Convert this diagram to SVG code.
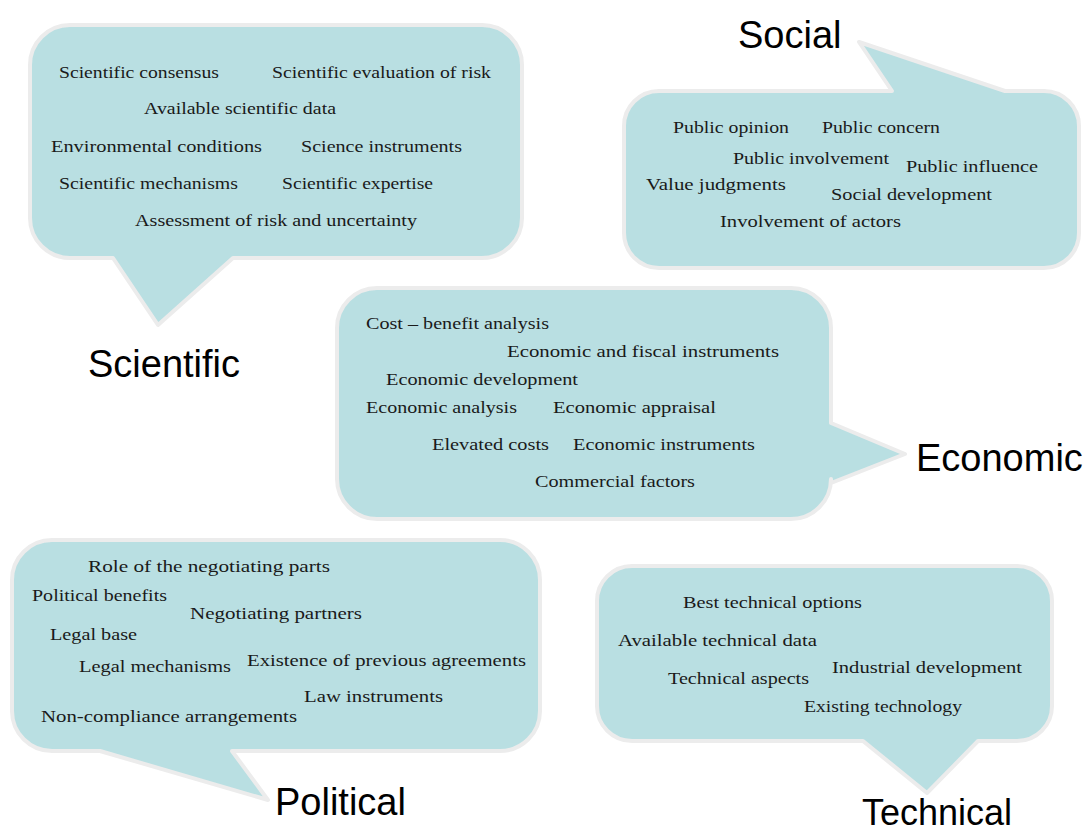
<svg xmlns="http://www.w3.org/2000/svg" width="1088" height="834" viewBox="0 0 1088 834">
<style>
.bubble{fill:#b9dfe2;stroke:#ececec;stroke-width:4;stroke-linejoin:round}
.item{font-family:"Liberation Serif","Times New Roman",serif;font-size:17.5px;fill:#1a1a1a}
.label{font-family:"Liberation Sans",Arial,sans-serif;font-size:38px;fill:#000}
</style>
<rect width="1088" height="834" fill="#ffffff"/>
<g id="scientific">
<path class="bubble" d="M70,25 H482 A40,40 0 0 1 522,65 V218 A40,40 0 0 1 482,258 H233 L158,325 L113,258 H70 A40,40 0 0 1 30,218 V65 A40,40 0 0 1 70,25 Z"/>
<text class="item" x="59" y="78" textLength="160" lengthAdjust="spacingAndGlyphs">Scientific consensus</text>
<text class="item" x="272" y="78" textLength="219" lengthAdjust="spacingAndGlyphs">Scientific evaluation of risk</text>
<text class="item" x="144" y="114" textLength="192" lengthAdjust="spacingAndGlyphs">Available scientific data</text>
<text class="item" x="51" y="152" textLength="211" lengthAdjust="spacingAndGlyphs">Environmental conditions</text>
<text class="item" x="301" y="152" textLength="161" lengthAdjust="spacingAndGlyphs">Science instruments</text>
<text class="item" x="59" y="189" textLength="179" lengthAdjust="spacingAndGlyphs">Scientific mechanisms</text>
<text class="item" x="282" y="189" textLength="151" lengthAdjust="spacingAndGlyphs">Scientific expertise</text>
<text class="item" x="135" y="226" textLength="282" lengthAdjust="spacingAndGlyphs">Assessment of risk and uncertainty</text>
<text class="label" x="88" y="377">Scientific</text>
</g>
<g id="social">
<path class="bubble" d="M659,91 H892 L859,42 L1005,91 H1044 A35,35 0 0 1 1079,126 V233 A35,35 0 0 1 1044,268 H659 A35,35 0 0 1 624,233 V126 A35,35 0 0 1 659,91 Z"/>
<text class="item" x="673" y="133" textLength="116" lengthAdjust="spacingAndGlyphs">Public opinion</text>
<text class="item" x="822" y="133" textLength="118" lengthAdjust="spacingAndGlyphs">Public concern</text>
<text class="item" x="733" y="164" textLength="156" lengthAdjust="spacingAndGlyphs">Public involvement</text>
<text class="item" x="906" y="172" textLength="132" lengthAdjust="spacingAndGlyphs">Public  influence</text>
<text class="item" x="646" y="190" textLength="140" lengthAdjust="spacingAndGlyphs">Value judgments</text>
<text class="item" x="831" y="200" textLength="161" lengthAdjust="spacingAndGlyphs">Social development</text>
<text class="item" x="720" y="227" textLength="181" lengthAdjust="spacingAndGlyphs">Involvement of  actors</text>
<text class="label" x="738" y="48">Social</text>
</g>
<g id="economic">
<path class="bubble" d="M377,288 H791 A40,40 0 0 1 831,328 V423 L905,454 L831,483 V479 A40,40 0 0 1 791,519 H377 A40,40 0 0 1 337,479 V328 A40,40 0 0 1 377,288 Z"/>
<text class="item" x="366" y="329" textLength="183" lengthAdjust="spacingAndGlyphs">Cost – benefit analysis</text>
<text class="item" x="507" y="357" textLength="272" lengthAdjust="spacingAndGlyphs">Economic and  fiscal  instruments</text>
<text class="item" x="386" y="385" textLength="192" lengthAdjust="spacingAndGlyphs">Economic development</text>
<text class="item" x="366" y="413" textLength="151" lengthAdjust="spacingAndGlyphs">Economic analysis</text>
<text class="item" x="553" y="413" textLength="163" lengthAdjust="spacingAndGlyphs">Economic appraisal</text>
<text class="item" x="432" y="450" textLength="117" lengthAdjust="spacingAndGlyphs">Elevated costs</text>
<text class="item" x="573" y="450" textLength="182" lengthAdjust="spacingAndGlyphs">Economic instruments</text>
<text class="item" x="535" y="487" textLength="160" lengthAdjust="spacingAndGlyphs">Commercial factors</text>
<text class="label" x="916" y="471">Economic</text>
</g>
<g id="political">
<path class="bubble" d="M52,540 H500 A40,40 0 0 1 540,580 V711 A40,40 0 0 1 500,751 H232 L268,800 L100,751 H52 A40,40 0 0 1 12,711 V580 A40,40 0 0 1 52,540 Z"/>
<text class="item" x="88" y="572" textLength="242" lengthAdjust="spacingAndGlyphs">Role  of  the  negotiating  parts</text>
<text class="item" x="32" y="601" textLength="135" lengthAdjust="spacingAndGlyphs">Political benefits</text>
<text class="item" x="190" y="619" textLength="172" lengthAdjust="spacingAndGlyphs">Negotiating partners</text>
<text class="item" x="50" y="640" textLength="87" lengthAdjust="spacingAndGlyphs">Legal base</text>
<text class="item" x="79" y="672" textLength="152" lengthAdjust="spacingAndGlyphs">Legal mechanisms</text>
<text class="item" x="247" y="666" textLength="279" lengthAdjust="spacingAndGlyphs">Existence of  previous  agreements</text>
<text class="item" x="304" y="702" textLength="139" lengthAdjust="spacingAndGlyphs">Law instruments</text>
<text class="item" x="41" y="722" textLength="256" lengthAdjust="spacingAndGlyphs">Non-compliance arrangements</text>
<text class="label" x="275" y="815">Political</text>
</g>
<g id="technical">
<path class="bubble" d="M632,566 H1017 A35,35 0 0 1 1052,601 V706 A35,35 0 0 1 1017,741 H978 L927,793 L863,741 H632 A35,35 0 0 1 597,706 V601 A35,35 0 0 1 632,566 Z"/>
<text class="item" x="683" y="608" textLength="179" lengthAdjust="spacingAndGlyphs">Best  technical options</text>
<text class="item" x="618" y="646" textLength="199" lengthAdjust="spacingAndGlyphs">Available technical  data</text>
<text class="item" x="832" y="673" textLength="190" lengthAdjust="spacingAndGlyphs">Industrial development</text>
<text class="item" x="668" y="684" textLength="141" lengthAdjust="spacingAndGlyphs">Technical aspects</text>
<text class="item" x="804" y="712" textLength="158" lengthAdjust="spacingAndGlyphs">Existing technology</text>
<text class="label" x="862" y="825" style="font-size:36px">Technical</text>
</g>
<g id="connectors"></g>
</svg>
